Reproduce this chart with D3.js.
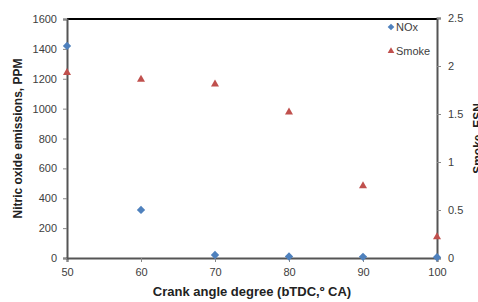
<!DOCTYPE html>
<html><head><meta charset="utf-8">
<script src="https://cdn.jsdelivr.net/npm/d3@7"></script>
<style>body{margin:0;background:#fff}svg{display:block}text{font-family:"Liberation Sans",Arial,sans-serif}</style>
</head><body><svg id="c" width="478" height="302"></svg>
<script>
const angles = [50, 60, 70, 80, 90, 100];
const noxValues = [1420, 322, 20, 10, 8, 5];
const smokeValues = [1.93, 1.86, 1.81, 1.52, 0.75, 0.22];
const xTicks = [50, 60, 70, 80, 90, 100];
const leftTicks = [0, 200, 400, 600, 800, 1000, 1200, 1400, 1600];
const rightTicks = [0, 0.5, 1, 1.5, 2, 2.5];
const seriesNames = ["NOx", "Smoke"];

const svg = d3.select("#c");
const L = 67, R = 437, T = 19, B = 258;
const x = d3.scaleLinear().domain([50, 100]).range([L, R]);
const yL = d3.scaleLinear().domain([0, 1600]).range([B, T]);
const yR = d3.scaleLinear().domain([0, 2.5]).range([B, 18]);
const tickCol = "#404040";

svg.append("line").attr("x1", L).attr("x2", R).attr("y1", T).attr("y2", T).attr("stroke", "#000").attr("stroke-width", 2);

const gx = svg.append("g").attr("transform", `translate(0,${B})`)
  .call(d3.axisBottom(x).tickValues(xTicks).tickSize(4).tickPadding(6).tickFormat(d3.format("d")));
const gl = svg.append("g").attr("transform", `translate(${L},0)`)
  .call(d3.axisLeft(yL).tickValues(leftTicks).tickSize(4).tickPadding(6).tickFormat(d3.format("d")));
const gr = svg.append("g").attr("transform", `translate(${R},0)`)
  .call(d3.axisRight(yR).tickValues(rightTicks).tickSize(4).tickPadding(7).tickFormat(d => d3.format("")(d)));
[gx, gl, gr].forEach(g => {
  g.select(".domain").attr("stroke", "#555").attr("stroke-width", 2);
  g.selectAll(".tick line").attr("stroke", "#888");
  g.selectAll(".tick text").attr("fill", tickCol).attr("font-size", 11).attr("font-family", "Liberation Sans, Arial, sans-serif");
});

svg.append("text").attr("x", (L + R) / 2).attr("y", 296).attr("text-anchor", "middle")
  .attr("font-size", 13).attr("font-weight", "bold").attr("fill", "#222").text("Crank angle degree (bTDC,º CA)");
svg.append("text").attr("transform", `translate(22,${(T + B) / 2}) rotate(-90)`).attr("text-anchor", "middle")
  .attr("font-size", 12).attr("font-weight", "bold").attr("fill", "#222").text("Nitric oxide emissions, PPM");
svg.append("text").attr("transform", `translate(482,${(T + B) / 2}) rotate(-90)`).attr("text-anchor", "middle")
  .attr("font-size", 12).attr("font-weight", "bold").attr("fill", "#222").text("Smoke, ESN");

const diamond = d3.symbol().type(d3.symbolDiamond2).size(44);
const tri = d3.symbol().type(d3.symbolTriangle2).size(46);
const blue = "#4F81BD", red = "#C0504D";

svg.append("g").selectAll("path").data(angles).join("path")
  .attr("d", tri).attr("fill", red)
  .attr("transform", (d, i) => `translate(${x(d)},${yR(smokeValues[i])})`);
svg.append("g").selectAll("path").data(angles).join("path")
  .attr("d", diamond).attr("fill", blue)
  .attr("transform", (d, i) => `translate(${x(d)},${yL(noxValues[i])})`);

const lg = svg.append("g");
const legendY = [27, 51];
seriesNames.forEach((n, i) => {
  lg.append("path").attr("d", i === 0 ? d3.symbol().type(d3.symbolDiamond2).size(28)() : d3.symbol().type(d3.symbolTriangle2).size(32)())
    .attr("fill", i === 0 ? blue : red).attr("transform", `translate(391,${legendY[i]})`);
  lg.append("text").attr("x", 396).attr("y", legendY[i] + 4).attr("font-size", 11).attr("fill", tickCol).text(n);
});
</script></body></html>
